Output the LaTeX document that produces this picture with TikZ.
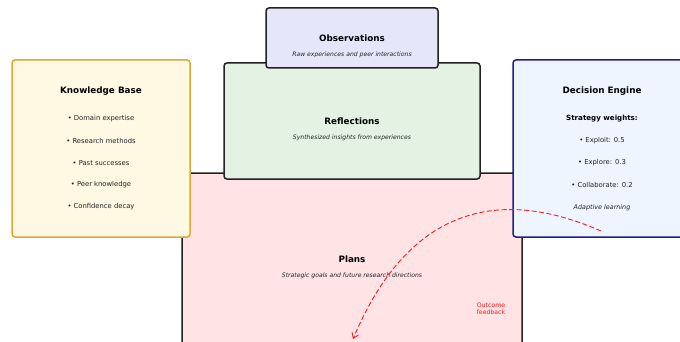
\documentclass[tikz,border=0pt]{standalone}
\usepackage{fontspec}
\setmainfont{DejaVu Sans}
\usetikzlibrary{arrows.meta}

\definecolor{obsfill}{HTML}{E6E6FA}
\definecolor{reffill}{HTML}{E3F2E3}
\definecolor{planfill}{HTML}{FFE3E5}
\definecolor{kbfill}{HTML}{FFF8E3}
\definecolor{kbedge}{HTML}{E0A82E}
\definecolor{defill}{HTML}{EEF5FF}
\definecolor{deedge}{HTML}{1E1E8C}
\definecolor{edge}{HTML}{222222}
\definecolor{fbred}{HTML}{FF1A1A}
\definecolor{bodytext}{HTML}{222222}

\tikzset{
  panel/.style={draw=edge, line width=1.5pt, rounded corners=3pt, inner sep=0pt},
  title/.style={font=\fontsize{8.8}{10}\selectfont\bfseries, text=black, inner sep=0pt},
  subtitle/.style={font=\fontsize{6.1}{7}\selectfont\itshape, text=bodytext, inner sep=0pt},
  item/.style={font=\fontsize{6.8}{8}\selectfont, text=bodytext, inner sep=0pt},
  feedback/.style={draw=fbred, line width=0.9pt, dash pattern=on 5pt off 2.5pt,
    -{Straight Barb[length=5pt,width=7pt]}},
}

\begin{document}
\begin{tikzpicture}[x=1pt, y=-1pt]
\useasboundingbox (0,0) rectangle (680,342);
\clip (0,0) rectangle (680,342);
\fill[white] (0,0) rectangle (680,342);

% Plans: the large base panel, running past the lower edge
\node[panel, fill=planfill, minimum width=340pt, minimum height=174pt] (plans) at (352,260) {};
\node[title] (planst) at (352,259) {Plans};
\node[subtitle] (planss) at (352,276) {Strategic goals and future research directions};

% Reflections
\node[panel, fill=reffill, minimum width=256pt, minimum height=116pt] (refl) at (352,121) {};
\node[title] (reflt) at (352,121) {Reflections};
\node[subtitle] (refls) at (352,138) {Synthesized insights from experiences};

% Observations
\node[panel, fill=obsfill, minimum width=172pt, minimum height=60pt] (obs) at (352,38) {};
\node[title] (obst) at (352,38) {Observations};
\node[subtitle] (obss) at (352,55) {Raw experiences and peer interactions};

% Knowledge base
\node[panel, draw=kbedge, fill=kbfill, minimum width=178pt, minimum height=177pt] (kb) at (101,148.5) {};
\node[title] (kbt) at (101,91) {Knowledge Base};
\node[item] (kb1) at (101,119) {• Domain expertise};
\node[item] (kb2) at (101,141) {• Research methods};
\node[item] (kb3) at (101,163) {• Past successes};
\node[item] (kb4) at (101,185) {• Peer knowledge};
\node[item] (kb5) at (101,207) {• Confidence decay};

% Decision engine
\node[panel, draw=deedge, fill=defill, minimum width=178pt, minimum height=177pt] (de) at (602,148.5) {};
\node[title] (det) at (602,91) {Decision Engine};
\node[item, font=\fontsize{7.1}{8}\selectfont\bfseries, text=black] (dew) at (602,119) {Strategy weights:};
\node[item] (de1) at (602,141) {• Exploit: 0.5};
\node[item] (de2) at (602,163) {• Explore: 0.3};
\node[item] (de3) at (602,185) {• Collaborate: 0.2};
\node[subtitle, font=\fontsize{6.4}{7}\selectfont\itshape] (dea) at (602,208) {Adaptive learning};

% Feedback loop from the decision engine back into the plans
\coordinate (fbstart) at (601,231);
\coordinate (fbend) at (353,339);
\draw[feedback] (fbstart) .. controls (530,200) and (420,180) .. (fbend);
\node[font=\fontsize{6.2}{7}\selectfont, text=fbred, align=center, inner sep=0pt] (fbl) at (491,308.5) {Outcome\\feedback};
\end{tikzpicture}
\end{document}
